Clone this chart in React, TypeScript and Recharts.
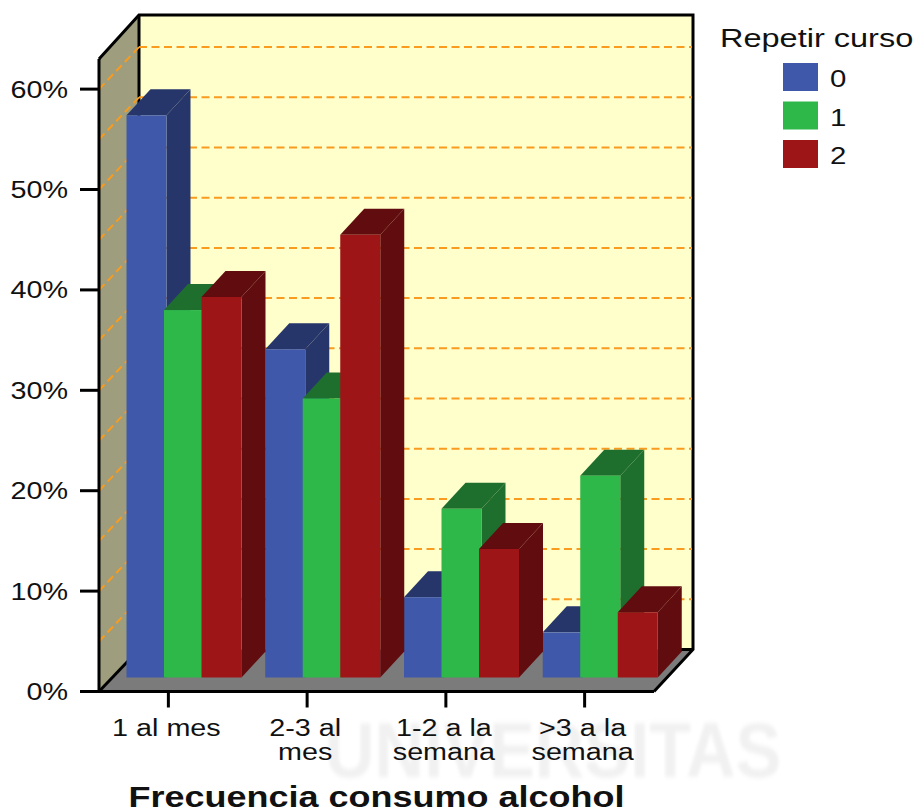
import { BarChart, Bar, XAxis, YAxis, ReferenceArea, ReferenceLine, Legend } from 'recharts';

const categories = ['1 al mes', '2-3 al\nmes', '1-2 a la\nsemana', '>3 a la\nsemana'];
const repetir0 = [56.0, 32.7, 8.0, 4.5];
const repetir1 = [36.6, 27.8, 16.8, 20.1];
const repetir2 = [37.9, 44.1, 12.8, 6.5];
const yTicks = [0, 10, 20, 30, 40, 50, 60];
const gridValues = [5, 10, 15, 20, 25, 30, 35, 40, 45, 50, 55, 60];
const legendTitle = 'Repetir curso';
const axisTitle = 'Frecuencia consumo alcohol';

const data = categories.map((cat, i) => ({
	cat,
	r0: repetir0[i],
	r1: repetir1[i],
	r2: repetir2[i],
}));

const FONT = '"Liberation Sans", Arial, sans-serif';
// the source image is stretched sideways
const STRETCH = 1.25;
const WALL_DX = 40;
const WALL_DY = 42;

function WideText({ x, y, size, anchor, weight, children }: any) {
	return (
		<text
			transform={`translate(${x} ${y}) scale(${STRETCH} 1)`}
			fontFamily={FONT}
			fontSize={size}
			fontWeight={weight || 'normal'}
			textAnchor={anchor || 'start'}
			fill="#111"
		>
			{children}
		</text>
	);
}

function Walls({ x, y, width, height }: any) {
	const bottom = y + height;
	const right = x + width;
	const backBottom = bottom - WALL_DY;
	const backTop = y - 44;
	const backLeft = x + WALL_DX;
	const backRight = right + 39;
	const line = { stroke: '#000', strokeWidth: 3, fill: 'none' };
	return (
		<g>
			<rect x={backLeft} y={backTop} width={backRight - backLeft} height={backBottom - backTop} fill="#FFFFCC" />
			<polygon points={`${x},${bottom} ${x},${y} ${backLeft},${backTop} ${backLeft},${backBottom}`} fill="#9E9E7E" />
			<polygon points={`${x},${bottom} ${right},${bottom} ${backRight},${backBottom} ${backLeft},${backBottom}`} fill="#7B7B7B" />
			<polyline {...line} points={`${x},${y} ${backLeft},${backTop} ${backRight},${backTop} ${backRight},${backBottom} ${right},${bottom}`} />
			<line {...line} x1={backLeft} y1={backTop} x2={backLeft} y2={backBottom} />
			<line {...line} x1={x} y1={bottom} x2={backLeft} y2={backBottom} />
			<line {...line} x1={backRight - 14} y1={backBottom} x2={backRight} y2={backBottom} />
		</g>
	);
}

function GridLine({ x1, y1, x2 }: any) {
	const backY = y1 - WALL_DY;
	const dash = { stroke: '#F99B1E', strokeWidth: 2, strokeDasharray: '8 4.5', fill: 'none' };
	return (
		<g>
			<line {...dash} x1={x1} y1={y1} x2={x1 + WALL_DX} y2={backY} />
			<line {...dash} x1={x1 + WALL_DX} y1={backY} x2={x2 + 38} y2={backY} />
		</g>
	);
}

function makeBar(front: string, dark: string) {
	return function Bar3D({ x, y, width, height }: any) {
		const dx = 24;
		const dy = 26;
		const r = x + width;
		const b = y + height;
		return (
			<g transform="translate(15.5 -14)">
				<polygon points={`${r},${y} ${r + dx},${y - dy} ${r + dx},${b - dy} ${r},${b}`} fill={dark} />
				<polygon points={`${x},${y} ${x + dx},${y - dy} ${r + dx},${y - dy} ${r},${y}`} fill={dark} />
				<rect x={x} y={y} width={width} height={height} fill={front} />
			</g>
		);
	};
}

function XTick({ x, payload }: any) {
	const lines = String(payload.value).split('\n');
	return (
		<g>
			{lines.map((t, i) => (
				<WideText key={t} x={x - 2} y={736 + i * 24} size={23} anchor="middle">
					{t}
				</WideText>
			))}
		</g>
	);
}

function YTick({ y, payload }: any) {
	return (
		<WideText x={68} y={y + 8.5} size={23} anchor="end">
			{payload.value}%
		</WideText>
	);
}

function AxisTitle() {
	return (
		<WideText x={376.5} y={806.5} size={28.8} weight="bold" anchor="middle">
			{axisTitle}
		</WideText>
	);
}

function LegendBox({ payload }: any) {
	return (
		<svg width={218} height={180} style={{ display: 'block' }}>
			<WideText x={20} y={46.5} size={26}>
				{legendTitle}
			</WideText>
			{(payload || []).map((item: any, i: number) => (
				<g key={item.value}>
					<rect x={83} y={63 + i * 38.5} width={35} height={28} fill={item.color} />
					<WideText x={130} y={87 + i * 38.5} size={23.5}>
						{item.value}
					</WideText>
				</g>
			))}
		</svg>
	);
}

export default function App() {
	return (
		<div style={{ position: 'absolute', left: 0, top: 0, width: 918, height: 809, overflow: 'hidden' }}>
			<div
				style={{
					position: 'absolute',
					left: 325,
					top: 705,
					fontFamily: FONT,
					fontWeight: 'bold',
					fontSize: 78,
					color: '#F1F1F1',
					filter: 'blur(2px)',
					whiteSpace: 'nowrap',
					transform: 'scaleX(0.88)',
					transformOrigin: 'left top',
				}}
			>
				UNIVERSITAS
			</div>
			<BarChart
				width={918}
				height={809}
				data={data}
				barSize={40}
				barGap={-2.5}
				margin={{ top: 59, right: 46, left: 0, bottom: 0 }}
				style={{ position: 'absolute', left: 0, top: 0 }}
			>
				<ReferenceArea y1={0} y2={63} shape={Walls} ifOverflow="visible" />
				{gridValues.map((v) => (
					<ReferenceLine key={v} y={v} shape={GridLine} zIndex={150} />
				))}
				<XAxis
					dataKey="cat"
					height={117.5}
					interval={0}
					tick={XTick}
					tickSize={16}
					axisLine={{ stroke: '#000', strokeWidth: 3 }}
					tickLine={{ stroke: '#000', strokeWidth: 3 }}
					label={<AxisTitle />}
				/>
				<YAxis
					width={99}
					domain={[0, 63]}
					ticks={yTicks}
					interval={0}
					tick={YTick}
					tickSize={19}
					axisLine={{ stroke: '#000', strokeWidth: 3 }}
					tickLine={{ stroke: '#000', strokeWidth: 3 }}
				/>
				<Legend
					layout="vertical"
					align="right"
					verticalAlign="top"
					content={LegendBox}
					wrapperStyle={{ position: 'absolute', left: 700, top: 0, width: 218, height: 180 }}
				/>
				<Bar dataKey="r0" name="0" fill="#3F58A9" shape={makeBar('#3F58A9', '#26366B')} isAnimationActive={false} />
				<Bar dataKey="r1" name="1" fill="#2EB84A" shape={makeBar('#2EB84A', '#1E6F2E')} isAnimationActive={false} />
				<Bar dataKey="r2" name="2" fill="#9E1518" shape={makeBar('#9E1518', '#610C0F')} isAnimationActive={false} />
			</BarChart>
		</div>
	);
}
